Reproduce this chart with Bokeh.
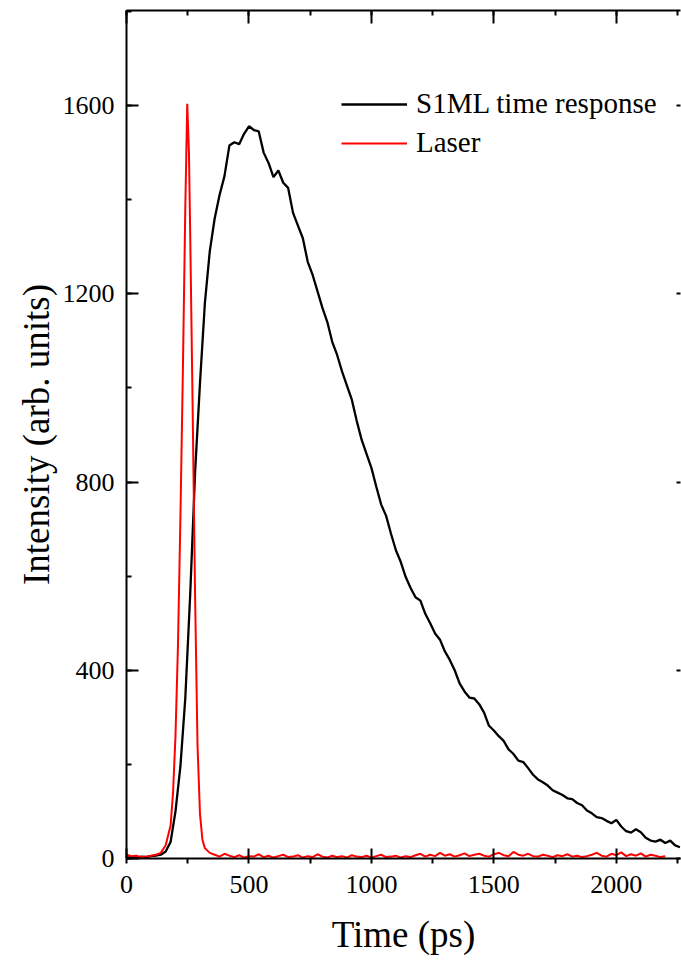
from bokeh.plotting import figure
from bokeh.models import (LinearAxis, SingleIntervalTicker, Legend, LegendItem, Range1d,
                          CustomJSTickFormatter)
from bokeh.embed import file_html
from bokeh.resources import INLINE

# ---- data ----
black_t = list(range(0, 2280, 20))
black_y = [2, 3, 1, 4, 3, 5, 6, 8, 15, 35,
           100, 195, 340, 560, 820, 1010, 1180, 1290, 1360, 1410,
           1450, 1515, 1522, 1518, 1540, 1556, 1548, 1545, 1500, 1478,
           1448, 1462, 1436, 1425, 1372, 1345, 1318, 1268, 1240, 1205,
           1170, 1140, 1098, 1070, 1035, 1005, 975, 930, 890, 860,
           830, 790, 752, 728, 690, 655, 630, 598, 575, 555,
           548, 520, 500, 478, 465, 440, 422, 400, 372, 355,
           342, 340, 328, 310, 282, 272, 260, 250, 232, 222,
           208, 205, 192, 178, 168, 162, 155, 145, 140, 135,
           128, 126, 118, 113, 102, 96, 88, 86, 80, 75,
           82, 68, 58, 55, 62, 56, 44, 38, 36, 40,
           33, 38, 28, 24]

laser_t = [0, 20, 40, 60, 80, 100, 120, 140, 160, 180, 190, 200, 210, 220, 230,
           240, 248, 255, 260, 270, 280, 290, 300, 310, 320, 340] + list(range(360, 2220, 20))
laser_y = [8, 5, 6, 3, 4, 6, 8, 12, 28, 70, 140, 260, 450, 720, 1030,
           1380, 1604, 1500, 1330, 960, 560, 240, 95, 40, 22, 12,
           8, 4, 10, 6, 3, 7, 2, 5, 4, 9, 3, 6, 2, 5, 8, 3, 4, 7, 2, 5,
           3, 9, 4, 2, 6, 3, 5, 2, 7, 4, 3, 6, 2, 5, 8, 3, 4, 6, 2, 5,
           3, 7, 10, 4, 8, 5, 12, 6, 9, 4, 7, 11, 5, 8, 10, 6, 4, 9,
           12, 7, 5, 14, 8, 6, 10, 5, 4, 8, 6, 3, 7, 5, 9, 4, 6, 3,
           5, 8, 12, 6, 4, 10, 7, 13, 5, 9, 6, 11, 4, 8, 6, 3, 5]

series_names = ["S1ML time response", "Laser"]
x_title = "Time (ps)"
y_title = "Intensity (arb. units)"

FONT = "'Liberation Serif', 'Times New Roman', serif"

p = figure(width=681, height=961, output_backend="svg", toolbar_location=None,
           x_range=Range1d(0, 2262), y_range=Range1d(0, 1802),
           min_border_left=126, min_border_right=1, min_border_top=10, min_border_bottom=103)
p.grid.visible = False
p.outline_line_color = None
p.background_fill_color = "white"

l1 = p.line(black_t, black_y, line_color="black", line_width=2.3)
l2 = p.line(laser_t, laser_y, line_color="#ff0000", line_width=2.0)

xt = SingleIntervalTicker(interval=500, num_minor_ticks=2)
yt = SingleIntervalTicker(interval=400, num_minor_ticks=2)

xa = p.xaxis[0]
xa.ticker = xt
xa.axis_label = x_title
ya = p.yaxis[0]
ya.ticker = yt
ya.axis_label = y_title

for ax in (xa, ya):
    ax.axis_line_width = 2
    ax.major_tick_line_width = 2
    ax.minor_tick_line_width = 2
    ax.major_label_text_font = FONT
    ax.major_label_text_font_size = "26px"
    ax.major_label_text_color = "black"
    ax.axis_label_text_font = FONT
    ax.axis_label_text_font_size = "37px"
    ax.axis_label_text_font_style = "normal"
    ax.axis_label_text_color = "black"

xa.major_tick_in = 10
xa.major_tick_out = 0
xa.minor_tick_in = 0
xa.minor_tick_out = 5
xa.major_label_standoff = 12
xa.axis_label_standoff = 18

ya.major_tick_in = 12
ya.major_tick_out = 0
ya.minor_tick_in = 5
ya.minor_tick_out = 0
ya.major_label_standoff = 12
ya.axis_label_standoff = 3

top = LinearAxis(ticker=SingleIntervalTicker(interval=500, num_minor_ticks=2))
right = LinearAxis(ticker=SingleIntervalTicker(interval=400, num_minor_ticks=2))
for ax, tin, mtin in ((top, 13, 5), (right, 4, 0)):
    ax.axis_line_width = 2
    ax.major_tick_line_width = 2
    ax.minor_tick_line_width = 2
    ax.major_tick_in = tin
    ax.major_tick_out = 0
    ax.minor_tick_in = mtin
    ax.minor_tick_out = 0
    ax.formatter = CustomJSTickFormatter(code="return '';")
    ax.major_label_standoff = 0
    ax.axis_label = None
right.axis_line_color = None
right.minor_tick_line_color = None
p.add_layout(top, "above")
p.add_layout(right, "right")

legend = Legend(items=[LegendItem(label=series_names[0], renderers=[l1]),
                       LegendItem(label=series_names[1], renderers=[l2])],
                location=(215, 699))
legend.label_text_font = FONT
legend.label_text_font_size = "29px"
legend.label_text_color = "black"
legend.glyph_width = 66
legend.glyph_height = 30
legend.label_height = 30
legend.label_standoff = 9
legend.spacing = 6
legend.padding = 0
legend.margin = 0
legend.border_line_color = None
legend.background_fill_alpha = 0
p.add_layout(legend, "center")

open("out.html", "w").write(file_html(p, INLINE))
